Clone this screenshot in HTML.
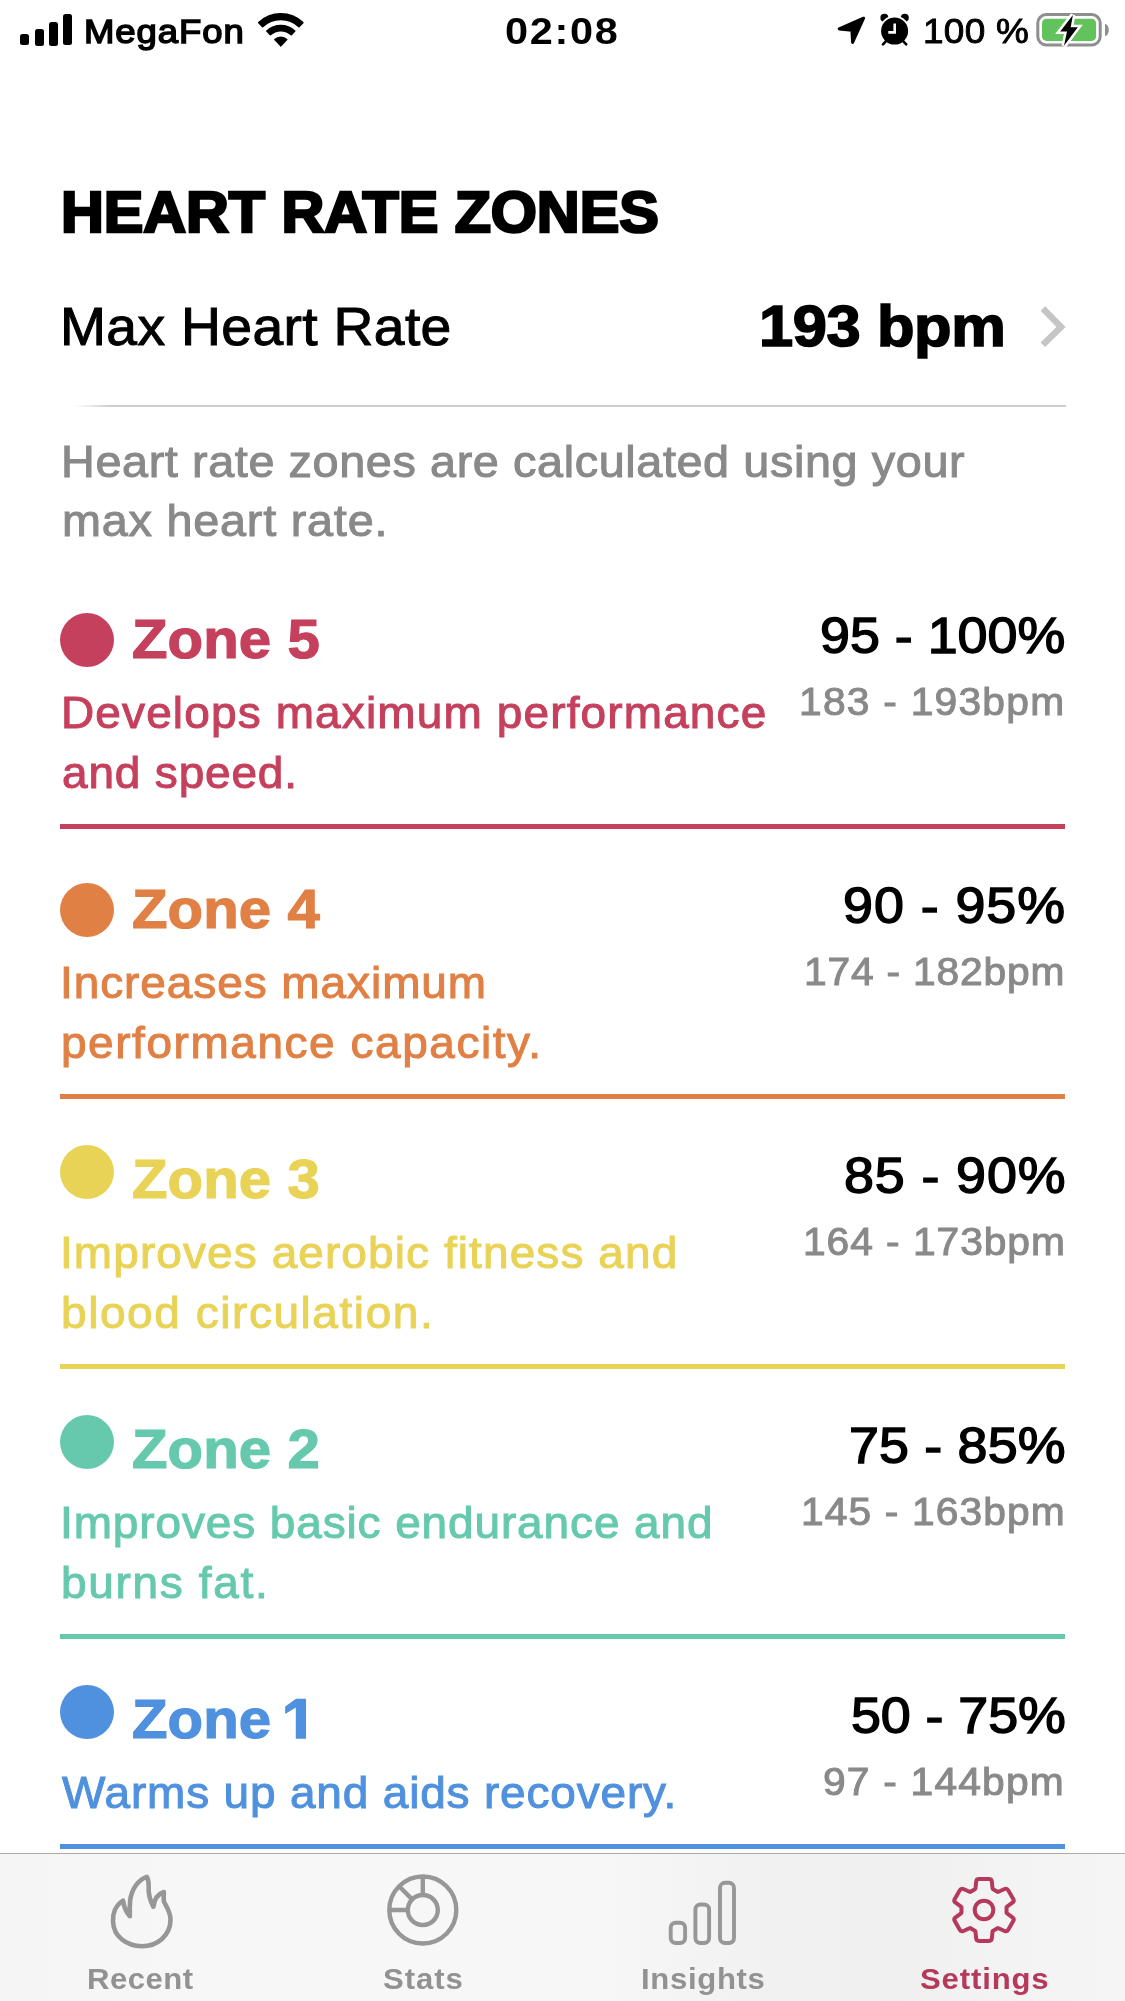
<!DOCTYPE html>
<html><head><meta charset="utf-8"><style>
*{margin:0;padding:0;box-sizing:border-box}
html,body{width:1125px;height:2001px;overflow:hidden;background:#fff}
body{position:relative;font-family:"Liberation Sans",sans-serif}
.t{position:absolute;white-space:nowrap;line-height:1;transform-origin:0 0;will-change:transform}
svg{position:absolute;overflow:visible}
</style></head>
<body>
<div style="position:absolute;left:20px;top:33.8px;width:9px;height:11.700000000000003px;background:#000;border-radius:2.5px"></div>
<div style="position:absolute;left:34.5px;top:28.5px;width:9px;height:17.0px;background:#000;border-radius:2.5px"></div>
<div style="position:absolute;left:48.7px;top:21.5px;width:9px;height:24.0px;background:#000;border-radius:2.5px"></div>
<div style="position:absolute;left:62.5px;top:14.3px;width:9px;height:31.2px;background:#000;border-radius:2.5px"></div>
<div class="t" style="top:14.54px;left:84.00px;font-size:33.2px;font-weight:400;letter-spacing:0.833px;color:#000;-webkit-text-stroke:1.5px #000;transform:scaleX(1.1);">MegaFon</div>
<svg style="left:250px;top:5px" width="62" height="45" viewBox="0 0 62 45">
<path d="M8.77 17.59 A32.0 32.0 0 0 1 52.83 17.59 L48.97 21.65 A26.4 26.4 0 0 0 12.63 21.65 Z M16.83 26.07 A20.3 20.3 0 0 1 44.77 26.07 L41.26 29.77 A15.2 15.2 0 0 0 20.34 29.77 Z M30.8 40.8 L24.88 34.56 A8.6 8.6 0 0 1 36.72 34.56 Z" fill="#000" stroke="#000" stroke-width="1.6" stroke-linejoin="round"/>
</svg>
<div class="t" style="top:13.27px;left:505.00px;font-size:37px;font-weight:700;letter-spacing:1.496px;color:#000;transform:scaleX(1.12);">02:08</div>
<svg style="left:837px;top:16px" width="30" height="30" viewBox="0 0 30 30">
<path d="M26.6 2.2 L2.2 12.9 L14.9 14.3 L15.6 26.4 Z" fill="#000" stroke="#000" stroke-width="3" stroke-linejoin="round"/>
</svg>
<svg style="left:878px;top:12px" width="34" height="36" viewBox="0 0 34 36">
<circle cx="6.4" cy="5.7" r="4.0" fill="#000"/>
<circle cx="26.8" cy="5.7" r="4.0" fill="#000"/>
<circle cx="16.6" cy="19.1" r="15.3" fill="#fff"/>
<path d="M7.6 29.6 L5 32.3 M25.6 29.6 L28.2 32.3" stroke="#000" stroke-width="2.6" stroke-linecap="round"/>
<circle cx="16.6" cy="19.1" r="13.5" fill="#000"/>
<path d="M16.7 11.5 V20.4 H10.3" stroke="#fff" stroke-width="2.6" fill="none" stroke-linejoin="miter"/>
</svg>
<div class="t" style="top:12.86px;left:923.40px;font-size:35.2px;font-weight:400;letter-spacing:0.262px;color:#000;-webkit-text-stroke:0.9px #000;transform:scaleX(1.05);">100 %</div>
<svg style="left:1030px;top:8px" width="84" height="44" viewBox="0 0 84 44">
<rect x="7.8" y="6.6" width="62.4" height="30.4" rx="8.5" fill="none" stroke="#8e8e8e" stroke-width="3"/>
<path d="M75 16 A3.8 6 0 0 1 75 28 Z" fill="#8e8e8e"/>
<rect x="12" y="10.8" width="54.1" height="22.1" rx="4.5" fill="#62c35c"/>
<path d="M42.9 7.1 L30.2 23.5 L37 23.5 L34 37.7 L47.8 19.3 L40.7 19.3 Z" fill="#000" stroke="#fff" stroke-width="5" stroke-linejoin="miter" stroke-miterlimit="3" paint-order="stroke"/>
</svg>
<div class="t" style="top:183.68px;left:61.00px;font-size:57.6px;font-weight:700;letter-spacing:-0.065px;color:#000;-webkit-text-stroke:2.6px #000;transform:scaleX(1.03);">HEART RATE ZONES</div>
<div class="t" style="top:299.12px;left:60.10px;font-size:54.2px;font-weight:400;letter-spacing:0.324px;color:#000;-webkit-text-stroke:1.0px #000;transform:scaleX(1.02);">Max Heart Rate</div>
<div class="t" style="top:297.60px;left:759.30px;font-size:57.4px;font-weight:700;letter-spacing:-0.358px;color:#000;-webkit-text-stroke:1.6px #000;transform:scaleX(1.07);">193 bpm</div>
<svg style="left:1040px;top:307px" width="28" height="40" viewBox="0 0 28 40">
<path d="M2.9 1.5 L21 20 L2.9 37.8" stroke="#c5c5c7" stroke-width="6.5" fill="none" stroke-linecap="butt" stroke-linejoin="miter"/>
</svg>
<div style="position:absolute;left:75px;top:405px;width:991px;height:2px;background:linear-gradient(90deg,rgba(204,204,204,0) 0,#cdcdcd 35px,#cdcdcd 100%)"></div>
<div class="t" style="top:438.91px;left:60.70px;font-size:45px;font-weight:400;letter-spacing:0.570px;color:#898989;-webkit-text-stroke:1.0px #898989;transform:scaleX(1.04);">Heart rate zones are calculated using your</div>
<div class="t" style="top:497.91px;left:61.50px;font-size:45px;font-weight:400;letter-spacing:0.735px;color:#898989;-webkit-text-stroke:1.0px #898989;transform:scaleX(1.04);">max heart rate.</div>
<div style="position:absolute;left:60px;top:613px;width:54px;height:54px;border-radius:50%;background:#c5405c"></div>
<div class="t" style="top:611.16px;left:131.50px;font-size:56.4px;font-weight:700;letter-spacing:0.097px;color:#c5405c;-webkit-text-stroke:1.2px #c5405c;transform:scaleX(1.03);">Zone 5</div>
<div class="t" style="top:610.51px;left:820.00px;font-size:50.3px;font-weight:400;letter-spacing:0.000px;color:#000;-webkit-text-stroke:1.4px #000;transform:scaleX(1.07);">95 - 100%</div>
<div class="t" style="top:682.55px;left:799.30px;font-size:38.1px;font-weight:400;letter-spacing:1.164px;color:#898989;-webkit-text-stroke:1.0px #898989;transform:scaleX(1.07);">183 - 193bpm</div>
<div class="t" style="top:690.59px;left:60.50px;font-size:44.2px;font-weight:400;letter-spacing:1.104px;color:#c5405c;-webkit-text-stroke:1.0px #c5405c;transform:scaleX(1.04);">Develops maximum performance</div>
<div class="t" style="top:750.59px;left:62.00px;font-size:44.2px;font-weight:400;letter-spacing:0.812px;color:#c5405c;-webkit-text-stroke:1.0px #c5405c;transform:scaleX(1.04);">and speed.</div>
<div style="position:absolute;left:60px;top:824px;width:1005px;height:5px;background:#c5405c"></div>
<div style="position:absolute;left:60px;top:883px;width:54px;height:54px;border-radius:50%;background:#e08045"></div>
<div class="t" style="top:881.16px;left:131.50px;font-size:56.4px;font-weight:700;letter-spacing:0.097px;color:#e08045;-webkit-text-stroke:1.2px #e08045;transform:scaleX(1.03);">Zone 4</div>
<div class="t" style="top:880.51px;left:843.30px;font-size:50.3px;font-weight:400;letter-spacing:0.895px;color:#000;-webkit-text-stroke:1.4px #000;transform:scaleX(1.07);">90 - 95%</div>
<div class="t" style="top:952.55px;left:804.00px;font-size:38.1px;font-weight:400;letter-spacing:0.765px;color:#898989;-webkit-text-stroke:1.0px #898989;transform:scaleX(1.07);">174 - 182bpm</div>
<div class="t" style="top:960.59px;left:60.00px;font-size:44.2px;font-weight:400;letter-spacing:0.901px;color:#e08045;-webkit-text-stroke:1.0px #e08045;transform:scaleX(1.04);">Increases maximum</div>
<div class="t" style="top:1020.59px;left:61.00px;font-size:44.2px;font-weight:400;letter-spacing:1.505px;color:#e08045;-webkit-text-stroke:1.0px #e08045;transform:scaleX(1.04);">performance capacity.</div>
<div style="position:absolute;left:60px;top:1094px;width:1005px;height:5px;background:#e08045"></div>
<div style="position:absolute;left:60px;top:1145px;width:54px;height:54px;border-radius:50%;background:#e9d357"></div>
<div class="t" style="top:1151.16px;left:131.50px;font-size:56.4px;font-weight:700;letter-spacing:0.097px;color:#e9d357;-webkit-text-stroke:1.2px #e9d357;transform:scaleX(1.03);">Zone 3</div>
<div class="t" style="top:1150.51px;left:843.80px;font-size:50.3px;font-weight:400;letter-spacing:0.828px;color:#000;-webkit-text-stroke:1.4px #000;transform:scaleX(1.07);">85 - 90%</div>
<div class="t" style="top:1222.55px;left:802.50px;font-size:38.1px;font-weight:400;letter-spacing:0.892px;color:#898989;-webkit-text-stroke:1.0px #898989;transform:scaleX(1.07);">164 - 173bpm</div>
<div class="t" style="top:1230.59px;left:60.00px;font-size:44.2px;font-weight:400;letter-spacing:1.058px;color:#e9d357;-webkit-text-stroke:1.0px #e9d357;transform:scaleX(1.04);">Improves aerobic fitness and</div>
<div class="t" style="top:1290.59px;left:61.00px;font-size:44.2px;font-weight:400;letter-spacing:1.516px;color:#e9d357;-webkit-text-stroke:1.0px #e9d357;transform:scaleX(1.04);">blood circulation.</div>
<div style="position:absolute;left:60px;top:1364px;width:1005px;height:5px;background:#e9d357"></div>
<div style="position:absolute;left:60px;top:1415px;width:54px;height:54px;border-radius:50%;background:#66c9ae"></div>
<div class="t" style="top:1421.16px;left:131.50px;font-size:56.4px;font-weight:700;letter-spacing:0.097px;color:#66c9ae;-webkit-text-stroke:1.2px #66c9ae;transform:scaleX(1.03);">Zone 2</div>
<div class="t" style="top:1420.51px;left:848.70px;font-size:50.3px;font-weight:400;letter-spacing:0.174px;color:#000;-webkit-text-stroke:1.4px #000;transform:scaleX(1.07);">75 - 85%</div>
<div class="t" style="top:1492.55px;left:800.70px;font-size:38.1px;font-weight:400;letter-spacing:1.045px;color:#898989;-webkit-text-stroke:1.0px #898989;transform:scaleX(1.07);">145 - 163bpm</div>
<div class="t" style="top:1500.59px;left:60.00px;font-size:44.2px;font-weight:400;letter-spacing:0.855px;color:#66c9ae;-webkit-text-stroke:1.0px #66c9ae;transform:scaleX(1.04);">Improves basic endurance and</div>
<div class="t" style="top:1560.59px;left:61.00px;font-size:44.2px;font-weight:400;letter-spacing:1.613px;color:#66c9ae;-webkit-text-stroke:1.0px #66c9ae;transform:scaleX(1.04);">burns fat.</div>
<div style="position:absolute;left:60px;top:1634px;width:1005px;height:5px;background:#66c9ae"></div>
<div style="position:absolute;left:60px;top:1685px;width:54px;height:54px;border-radius:50%;background:#4f91de"></div>
<div class="t" style="top:1691.16px;left:131.50px;font-size:56.4px;font-weight:700;letter-spacing:0.097px;color:#4f91de;-webkit-text-stroke:1.2px #4f91de;transform:scaleX(1.03);">Zone</div>
<svg style="left:0;top:0" width="1" height="1"><path d="M285.2 1706.4 L296 1698.8 L306 1698.8 L306 1738.8 L295.8 1738.8 L295.8 1707.6 L285.2 1714 Z" fill="#4f91de"/></svg>
<div class="t" style="top:1690.51px;left:850.50px;font-size:50.3px;font-weight:400;letter-spacing:-0.067px;color:#000;-webkit-text-stroke:1.4px #000;transform:scaleX(1.07);">50 - 75%</div>
<div class="t" style="top:1762.55px;left:823.00px;font-size:38.1px;font-weight:400;letter-spacing:1.121px;color:#898989;-webkit-text-stroke:1.0px #898989;transform:scaleX(1.07);">97 - 144bpm</div>
<div class="t" style="top:1770.59px;left:62.00px;font-size:44.2px;font-weight:400;letter-spacing:0.803px;color:#4f91de;-webkit-text-stroke:1.0px #4f91de;transform:scaleX(1.04);">Warms up and aids recovery.</div>
<div style="position:absolute;left:60px;top:1844px;width:1005px;height:5px;background:#4f91de"></div>
<div style="position:absolute;left:0;top:1853px;width:1125px;height:148px;background:linear-gradient(90deg,#f5f5f5 0,#f7f7f7 200px,#f7f7f7 600px,#f1f1f1 770px,#f0f0f0 900px,#f3f3f3 1000px,#f5f5f5 1125px);border-top:1px solid #ababab"></div>
<svg style="left:100px;top:1868px" width="90" height="90" viewBox="-2.2 -2.3 94.7 94.7">
<path d="M47 7 C38 10 31 20 29.5 32 C29 38 29 44 29.2 48.5 C26 45 23 38 22 32 C14 37 11 46 11.5 54 C12 70 26 80 42 80 C58 80 72 69 72 52 C72 44 68 39 65 33 C64.5 28 65 25 65 23 C59 25 55 30 54 38.5 C51 33 48.5 25 49 17 C49 13 48.5 9 47 7 Z" stroke="#979797" stroke-width="4.85" fill="none" stroke-linejoin="round"/>
</svg>
<svg style="left:380px;top:1868px" width="90" height="90" viewBox="0 0 90 90">
<g stroke="#979797" stroke-width="4.4" fill="none">
<circle cx="42.8" cy="42" r="33.5"/>
<circle cx="42.8" cy="42" r="15"/>
<path d="M42.8 27 V8.5 M27.8 42 H9.3 M32.2 31.4 L19.1 18.3"/>
</g></svg>
<svg style="left:660px;top:1870px" width="90" height="90" viewBox="0 0 90 90">
<g stroke="#979797" stroke-width="3.9" fill="none">
<rect x="10.7" y="52.7" width="14.4" height="20.3" rx="5"/>
<rect x="35.4" y="34.5" width="13.7" height="38.5" rx="5"/>
<rect x="60" y="12.8" width="14" height="60.2" rx="5"/>
</g></svg>
<svg style="left:951px;top:1877px" width="66" height="66" viewBox="0 0 66 66">
<path d="M23.71 12.41 Q24.40 12.10 24.48 11.35 L25.14 4.71 Q25.40 2.12 28.00 2.12 L38.00 2.12 Q40.60 2.12 40.86 4.71 L41.52 11.35 Q41.60 12.10 42.29 12.41 L42.97 12.72 L44.30 13.43 L45.58 14.22 L46.19 14.66 Q46.80 15.10 47.49 14.79 L53.57 12.05 Q55.94 10.98 57.24 13.23 L62.24 21.89 Q63.54 24.14 61.43 25.66 L56.01 29.56 Q55.40 30.00 55.47 30.75 L55.55 31.50 L55.60 33.00 L55.55 34.50 L55.47 35.25 Q55.40 36.00 56.01 36.44 L61.43 40.34 Q63.54 41.86 62.24 44.11 L57.24 52.77 Q55.94 55.02 53.57 53.95 L47.49 51.21 Q46.80 50.90 46.19 51.34 L45.58 51.78 L44.30 52.57 L42.97 53.28 L42.29 53.59 Q41.60 53.90 41.52 54.65 L40.86 61.29 Q40.60 63.88 38.00 63.88 L28.00 63.88 Q25.40 63.88 25.14 61.29 L24.48 54.65 Q24.40 53.90 23.71 53.59 L23.03 53.28 L21.70 52.57 L20.42 51.78 L19.81 51.34 Q19.20 50.90 18.51 51.21 L12.43 53.95 Q10.06 55.02 8.76 52.77 L3.76 44.11 Q2.46 41.86 4.57 40.34 L9.99 36.44 Q10.60 36.00 10.53 35.25 L10.45 34.50 L10.40 33.00 L10.45 31.50 L10.53 30.75 Q10.60 30.00 9.99 29.56 L4.57 25.66 Q2.46 24.14 3.76 21.89 L8.76 13.23 Q10.06 10.98 12.43 12.05 L18.51 14.79 Q19.20 15.10 19.81 14.66 L20.42 14.22 L21.70 13.43 L23.03 12.72 Z" stroke="#b5395a" stroke-width="4" fill="none" stroke-linejoin="round"/>
<circle cx="33" cy="33" r="9.3" stroke="#b5395a" stroke-width="4" fill="none"/>
</svg>
<div class="t" style="top:1964.03px;left:87.20px;font-size:30.2px;font-weight:700;letter-spacing:0.485px;color:#929292;transform:scaleX(1.03);">Recent</div>
<div class="t" style="top:1964.03px;left:382.70px;font-size:30.2px;font-weight:700;letter-spacing:0.898px;color:#929292;transform:scaleX(1.03);">Stats</div>
<div class="t" style="top:1964.03px;left:641.20px;font-size:30.2px;font-weight:700;letter-spacing:0.652px;color:#929292;transform:scaleX(1.03);">Insights</div>
<div class="t" style="top:1964.03px;left:919.70px;font-size:30.2px;font-weight:700;letter-spacing:0.832px;color:#b5395a;transform:scaleX(1.03);">Settings</div>

</body></html>
